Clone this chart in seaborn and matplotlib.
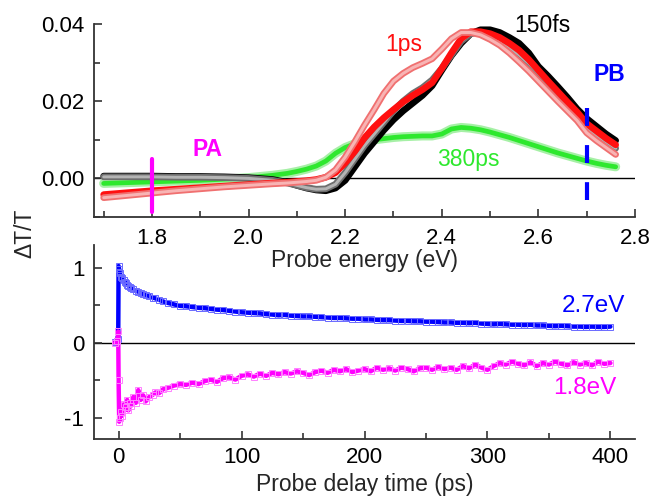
import numpy as np
import pandas as pd
import seaborn as sns
import matplotlib.pyplot as plt
from matplotlib.ticker import MultipleLocator, FormatStrFormatter

# ---- spectra (top panel) ----
energy = [1.70, 1.75, 1.80, 1.85, 1.90, 1.95, 2.00, 2.05,
          2.08, 2.10, 2.12, 2.14, 2.16, 2.18, 2.20, 2.22, 2.24, 2.26,
          2.28, 2.30, 2.32, 2.34, 2.36, 2.38, 2.40, 2.42, 2.44, 2.46,
          2.48, 2.50, 2.52, 2.54, 2.56, 2.58, 2.60, 2.62, 2.64, 2.66,
          2.68, 2.70, 2.72, 2.74, 2.76]

spec_150fs = [0.0006, 0.0006, 0.0006, 0.0005, 0.0005, 0.0004, 0.0002, -0.0003,
              -0.0010, -0.0018, -0.0025, -0.0030, -0.0032, -0.0025, -0.0005, 0.0030, 0.0065, 0.0095,
              0.0125, 0.0152, 0.0175, 0.0195, 0.0215, 0.0240, 0.0280, 0.0318, 0.0350, 0.0375,
              0.0385, 0.0385, 0.0378, 0.0365, 0.0350, 0.0325, 0.0290, 0.0265, 0.0238, 0.0210,
              0.0180, 0.0155, 0.0135, 0.0115, 0.0098]

spec_gray = [0.0004, 0.0004, 0.0004, 0.0003, 0.0003, 0.0002, 0.0000, -0.0005,
             -0.0012, -0.0018, -0.0024, -0.0028, -0.0027, -0.0015, 0.0015, 0.0050, 0.0085, 0.0115,
             0.0145, 0.0175, 0.0200, 0.0220, 0.0235, 0.0255, 0.0285, 0.0320, 0.0355, 0.0375,
             0.0378, 0.0370, 0.0358, 0.0340, 0.0320, 0.0298, 0.0272, 0.0245, 0.0220, 0.0193,
             0.0167, 0.0130, 0.0112, 0.0095, 0.0078]

spec_red = [-0.0042, -0.0037, -0.0032, -0.0028, -0.0024, -0.0020, -0.0016, -0.0012,
            -0.0010, -0.0008, -0.0006, -0.0003, 0.0003, 0.0015, 0.0040, 0.0070, 0.0105, 0.0133,
            0.0157, 0.0178, 0.0198, 0.0215, 0.0230, 0.0248, 0.0285, 0.0325, 0.0362, 0.0380,
            0.0380, 0.0375, 0.0365, 0.0350, 0.0332, 0.0308, 0.0280, 0.0252, 0.0225, 0.0198,
            0.0172, 0.0142, 0.0123, 0.0104, 0.0087]

spec_1ps = [-0.0050, -0.0044, -0.0038, -0.0032, -0.0027, -0.0022, -0.0018, -0.0014,
            -0.0012, -0.0010, -0.0008, -0.0005, 0.0003, 0.0022, 0.0055, 0.0095, 0.0138, 0.0178,
            0.0220, 0.0252, 0.0272, 0.0287, 0.0298, 0.0310, 0.0335, 0.0362, 0.0378, 0.0378,
            0.0372, 0.0360, 0.0345, 0.0325, 0.0302, 0.0278, 0.0252, 0.0226, 0.0200, 0.0175,
            0.0150, 0.0118, 0.0098, 0.0080, 0.0062]

spec_380ps = [-0.0013, -0.0011, -0.0009, -0.0007, -0.0005, -0.0002, 0.0002, 0.0008,
              0.0013, 0.0018, 0.0024, 0.0032, 0.0045, 0.0065, 0.0080, 0.0090, 0.0096, 0.0100,
              0.0103, 0.0106, 0.0108, 0.0109, 0.0110, 0.0110, 0.0115, 0.0128, 0.0132, 0.0130,
              0.0126, 0.0120, 0.0113, 0.0106, 0.0098, 0.0090, 0.0082, 0.0074, 0.0066, 0.0059,
              0.0052, 0.0045, 0.0039, 0.0034, 0.0030]

PA_ENERGY = 1.8
PB_ENERGY = 2.7

# ---- kinetics (bottom panel) ----
delay = [-3, -1, -0.3, 0, 0.5, 1, 2, 3, 4, 5, 6, 7, 8, 9, 10, 12, 14, 16, 18, 20,
         22, 25, 28, 30, 33, 36, 40, 45] + list(range(50, 405, 5))

kin_27 = [0.01, 0.02, 0.05, 1.02, 0.98, 0.93, 0.88, 0.86, 0.83, 0.81,
          0.79, 0.77, 0.76, 0.74, 0.73, 0.71, 0.69, 0.68, 0.66, 0.65,
          0.64, 0.62, 0.60, 0.59, 0.57, 0.55, 0.53, 0.51,
          0.49, 0.485, 0.475, 0.465, 0.46, 0.45, 0.44, 0.435, 0.425, 0.415,
          0.405, 0.40, 0.395, 0.39, 0.38, 0.375, 0.365, 0.37, 0.36, 0.355,
          0.35, 0.35, 0.345, 0.34, 0.335, 0.33, 0.33, 0.325, 0.32, 0.32,
          0.31, 0.31, 0.305, 0.30, 0.30, 0.295, 0.29, 0.29, 0.285, 0.285,
          0.28, 0.28, 0.275, 0.27, 0.27, 0.265, 0.265, 0.26, 0.265, 0.255,
          0.25, 0.245, 0.25, 0.245, 0.24, 0.24, 0.235, 0.24, 0.23, 0.23,
          0.225, 0.22, 0.225, 0.22, 0.215, 0.215, 0.21, 0.215, 0.21, 0.21,
          0.215]

kin_18 = [0.0, 0.02, 0.15, -0.5, -1.05, -1.0, -0.92, -0.97, -0.82, -0.9,
          -0.85, -0.76, -0.9, -0.8, -0.84, -0.72, -0.8, -0.63, -0.76, -0.7,
          -0.78, -0.72, -0.69, -0.66, -0.67, -0.62, -0.6, -0.57,
          -0.55, -0.56, -0.53, -0.55, -0.51, -0.49, -0.52, -0.47, -0.46, -0.49,
          -0.44, -0.42, -0.45, -0.41, -0.44, -0.40, -0.42, -0.39, -0.41, -0.38,
          -0.40, -0.43, -0.39, -0.37, -0.40, -0.36, -0.38, -0.35, -0.39, -0.37,
          -0.35, -0.38, -0.33, -0.36, -0.34, -0.37, -0.33, -0.35, -0.38, -0.34,
          -0.33, -0.36, -0.32, -0.35, -0.33, -0.36, -0.31, -0.34, -0.29, -0.33,
          -0.36, -0.31, -0.27, -0.29, -0.25, -0.28, -0.30, -0.26, -0.31, -0.27,
          -0.29, -0.25, -0.28, -0.30, -0.26, -0.29, -0.27, -0.30, -0.25, -0.28,
          -0.27]

sns.set_theme(style="ticks")
plt.rcParams["font.family"] = ["Liberation Sans", "DejaVu Sans"]
plt.rcParams["axes.unicode_minus"] = False

fig = plt.figure(figsize=(6.52, 5.0), dpi=100)
ax1 = fig.add_axes([94 / 652, 1 - 217 / 500, 541 / 652, 193 / 500])
ax2 = fig.add_axes([94 / 652, 1 - 439 / 500, 541 / 652, 194 / 500])
ax2.patch.set_alpha(0)


# top panel: hollow-square series drawn as coloured band with paler core
def band(ax, y, color, core=None, lw=4.8):
    sns.lineplot(x=energy, y=y, ax=ax, color=color, lw=lw, estimator=None, sort=False)
    if core is not None:
        sns.lineplot(x=energy, y=y, ax=ax, color=core, lw=lw * 0.45, estimator=None, sort=False)


ax1.axhline(0, color="black", lw=1, zorder=0)
band(ax1, spec_380ps, "#a6f0a6", lw=6.5)
band(ax1, spec_380ps, "#2ee82e", lw=3.4)
band(ax1, spec_150fs, "black")
band(ax1, spec_gray, "#6e6e6e", core="#b4b4b4")
band(ax1, spec_red, "#ff1010")
band(ax1, spec_1ps, "#f07070", core="#f8b4b4")

ax1.plot([PA_ENERGY, PA_ENERGY], [-0.0088, 0.0049], color="#ff00ff", lw=3)
ax1.plot([PB_ENERGY, PB_ENERGY], [0.0182, -0.0056], color="#0000ff", lw=3,
         linestyle=(0, (4.3, 4.6)))

ax1.text(2.608, 0.0395, "150fs", color="black", fontsize=16.5, ha="center", va="center")
ax1.text(2.321, 0.0346, "1ps", color="#ff1010", fontsize=16.5, ha="center", va="center")
ax1.text(2.746, 0.0268, "PB", color="#0000ff", fontsize=16.5, fontweight="bold", ha="center", va="center")
ax1.text(1.915, 0.0075, "PA", color="#ff00ff", fontsize=16.5, fontweight="bold", ha="center", va="center")
ax1.text(2.456, 0.0049, "380ps", color="#2ee82e", fontsize=16.5, ha="center", va="center")

ax1.set_xlim(1.68, 2.8)
ax1.set_ylim(-0.01, 0.04)
ax1.xaxis.set_major_locator(MultipleLocator(0.2))
ax1.xaxis.set_minor_locator(MultipleLocator(0.1))
ax1.yaxis.set_major_locator(MultipleLocator(0.02))
ax1.yaxis.set_minor_locator(MultipleLocator(0.01))
ax1.yaxis.set_major_formatter(FormatStrFormatter("%.2f"))
ax1.xaxis.set_major_formatter(FormatStrFormatter("%.1f"))
ax1.set_xlabel("Probe energy (eV)", fontsize=16.5, labelpad=0)
ax1.set_ylabel("")

# bottom panel
ax2.axhline(0, color="black", lw=1, zorder=0)
sns.lineplot(x=delay, y=kin_27, ax=ax2, color="#0000ff", lw=3.2, estimator=None, sort=False,
             marker="s", markersize=4, markerfacecolor="none", markeredgecolor="#6a6aff",
             markeredgewidth=0.7)
sns.lineplot(x=delay, y=kin_18, ax=ax2, color="#ff00ff", lw=3.2, estimator=None, sort=False,
             marker="s", markersize=4, markerfacecolor="none", markeredgecolor="#ff80ff",
             markeredgewidth=0.7)
ax2.text(386, 0.49, "2.7eV", color="#0000ff", fontsize=17.5, ha="center", va="center")
ax2.text(379, -0.60, "1.8eV", color="#ff00ff", fontsize=17.5, ha="center", va="center")

ax2.set_xlim(-20, 420)
ax2.set_ylim(-1.28, 1.3)
ax2.xaxis.set_major_locator(MultipleLocator(100))
ax2.xaxis.set_minor_locator(MultipleLocator(50))
ax2.yaxis.set_major_locator(MultipleLocator(1))
ax2.yaxis.set_minor_locator(MultipleLocator(0.5))
ax2.set_xlabel("Probe delay time (ps)", fontsize=16.5, labelpad=3)
ax2.set_ylabel("")

for ax in (ax1, ax2):
    sns.despine(ax=ax)
    for s in ("left", "bottom"):
        ax.spines[s].set_linewidth(1.3)
        ax.spines[s].set_color("#333333")
    ax.tick_params(which="both", direction="in", labelsize=16, colors="#333333",
                   labelcolor="black", width=1.2)
    ax.tick_params(which="major", length=6)
    ax.tick_params(which="minor", length=4)
    ax.tick_params(axis="y", pad=7)
ax1.tick_params(axis="x", pad=8)
ax2.tick_params(axis="x", pad=6)

fig.text(25 / 652, 1 - 233 / 500, "ΔT/T", rotation=90, fontsize=16.5, ha="center", va="center")

fig.savefig("out.png", dpi=100)
